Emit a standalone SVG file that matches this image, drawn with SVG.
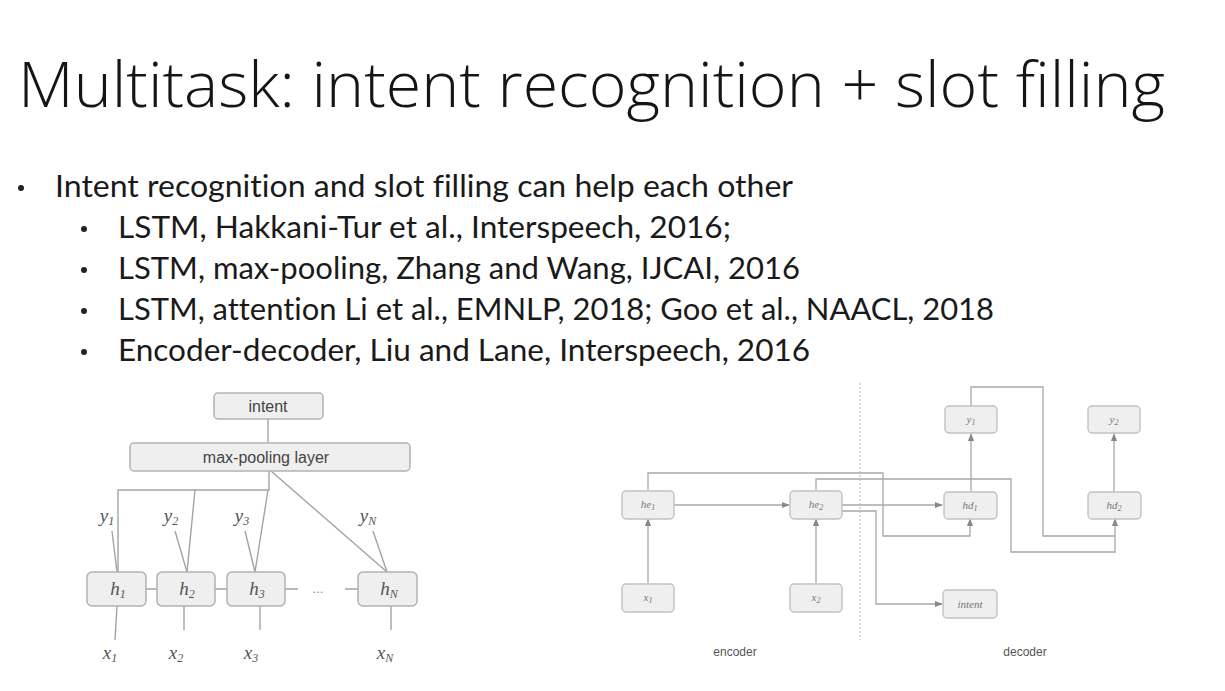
<svg xmlns="http://www.w3.org/2000/svg" width="1225" height="691" viewBox="0 0 1225 691">
<defs>
<style>
.title{font-family:"Open Sans","Noto Sans",sans-serif;font-weight:300;font-size:63px;fill:#151515}
.bul{font-family:"Lato","Open Sans","Liberation Sans",sans-serif;font-size:30px;fill:#1a1a1a;font-variant-ligatures:none;font-feature-settings:"liga" 0,"dlig" 0}
.lb{fill:#efefef;stroke:#b2b2b2;stroke-width:1.5}
.rb{fill:#efefef;stroke:#c2c2c2;stroke-width:1.4}
.ln{fill:none;stroke:#a3a3a3;stroke-width:1.4}
.rl{fill:none;stroke:#a8a8a8;stroke-width:1.3}
.sans{font-family:"Liberation Sans",Arial,sans-serif;font-size:16px;fill:#444;text-anchor:middle}
.it{font-family:"Liberation Serif","DejaVu Serif",serif;font-style:italic;fill:#555;text-anchor:middle}
.itr{font-family:"Liberation Serif","DejaVu Serif",serif;font-style:italic;fill:#777;text-anchor:middle;font-size:11px}
.cap{font-family:"Liberation Sans",Arial,sans-serif;font-size:12px;fill:#555;text-anchor:middle}
</style>
<marker id="ar" viewBox="0 0 10 10" refX="9" refY="5" markerWidth="6" markerHeight="6" orient="auto">
<path d="M0,1 L10,5 L0,9 z" fill="#888"/>
</marker>
</defs>
<rect width="1225" height="691" fill="#ffffff"/>

<text class="title" x="18" y="107" textLength="1147" lengthAdjust="spacingAndGlyphs">Multitask: intent recognition + slot filling</text>

<g id="bullets">
<circle cx="21" cy="188" r="3" fill="#222"/>
<text class="bul" x="55" y="197" textLength="738" lengthAdjust="spacingAndGlyphs">Intent recognition and slot filling can help each other</text>
<circle cx="84" cy="229" r="3" fill="#222"/>
<text class="bul" x="118" y="238" textLength="613" lengthAdjust="spacingAndGlyphs">LSTM, Hakkani-Tur et al., Interspeech, 2016;</text>
<circle cx="84" cy="270" r="3" fill="#222"/>
<text class="bul" x="118" y="279" textLength="682" lengthAdjust="spacingAndGlyphs">LSTM, max-pooling, Zhang and Wang, IJCAI, 2016</text>
<circle cx="84" cy="311" r="3" fill="#222"/>
<text class="bul" x="118" y="320" textLength="876" lengthAdjust="spacingAndGlyphs">LSTM, attention Li et al., EMNLP, 2018; Goo et al., NAACL, 2018</text>
<circle cx="84" cy="352" r="3" fill="#222"/>
<text class="bul" x="118" y="361" textLength="692" lengthAdjust="spacingAndGlyphs">Encoder-decoder, Liu and Lane, Interspeech, 2016</text>
</g>

<!-- Left diagram -->
<g id="left-connectors">
<path class="ln" d="M268,419 V442"/>
<path class="ln" d="M269,471 V490 H118 V572"/>
<path class="ln" d="M195,490 L187,572"/>
<path class="ln" d="M268,490 L255,572"/>
<path class="ln" d="M271,471 L387,572"/>
<path class="ln" d="M112,531 L117,572"/>
<path class="ln" d="M175,531 L187,572"/>
<path class="ln" d="M245,531 L255,572"/>
<path class="ln" d="M373,531 L387,572"/>
<path class="ln" d="M146,589 H157 M215,589 H227 M285,589 H298 M345,589 H358"/>
<path class="ln" d="M117,606 L115,640 M184,606 V630 M260,606 V630 M391,606 V630"/>
</g>
<g id="l-intent"><rect class="lb" x="214" y="393" width="109" height="26" rx="4"/><text class="sans" x="268" y="412">intent</text></g>
<g id="l-maxpool"><rect class="lb" x="130" y="443" width="280" height="28" rx="4"/><text class="sans" x="266" y="463">max-pooling layer</text></g>
<g id="l-h1"><rect class="lb" x="87" y="572" width="59" height="34" rx="5"/><text class="it" x="118" y="595" font-size="19">h<tspan font-size="12" dy="3">1</tspan></text></g>
<g id="l-h2"><rect class="lb" x="157" y="572" width="58" height="34" rx="5"/><text class="it" x="187" y="595" font-size="19">h<tspan font-size="12" dy="3">2</tspan></text></g>
<g id="l-h3"><rect class="lb" x="227" y="572" width="58" height="34" rx="5"/><text class="it" x="257" y="595" font-size="19">h<tspan font-size="12" dy="3">3</tspan></text></g>
<g id="l-hN"><rect class="lb" x="358" y="572" width="59" height="34" rx="5"/><text class="it" x="389" y="595" font-size="19">h<tspan font-size="12" dy="3">N</tspan></text></g>
<text x="318" y="593" font-family="Liberation Sans,sans-serif" font-size="13" fill="#888" text-anchor="middle">...</text>
<g id="l-ylabels">
<text class="it" x="107" y="522" font-size="19">y<tspan font-size="12" dy="3">1</tspan></text>
<text class="it" x="171" y="522" font-size="19">y<tspan font-size="12" dy="3">2</tspan></text>
<text class="it" x="242" y="522" font-size="19">y<tspan font-size="12" dy="3">3</tspan></text>
<text class="it" x="368" y="522" font-size="19">y<tspan font-size="12" dy="3">N</tspan></text>
</g>
<g id="l-xlabels">
<text class="it" x="110" y="659" font-size="19">x<tspan font-size="12" dy="3">1</tspan></text>
<text class="it" x="176" y="659" font-size="19">x<tspan font-size="12" dy="3">2</tspan></text>
<text class="it" x="251" y="659" font-size="19">x<tspan font-size="12" dy="3">3</tspan></text>
<text class="it" x="385" y="659" font-size="19">x<tspan font-size="12" dy="3">N</tspan></text>
</g>

<!-- Right diagram -->
<path d="M860,383 V640" stroke="#b5b5b5" stroke-width="1" stroke-dasharray="2,2" fill="none"/>
<g id="right-connectors">
<path class="rl" d="M674,505 H789" marker-end="url(#ar)"/>
<path class="rl" d="M648,583 V519" marker-end="url(#ar)"/>
<path class="rl" d="M816,583 V519" marker-end="url(#ar)"/>
<path class="rl" d="M648,490 V473 H883 V536 H970 V519" marker-end="url(#ar)"/>
<path class="rl" d="M816,490 V479 H1011 V552 H1115 V519" marker-end="url(#ar)"/>
<path class="rl" d="M842,505 H942" marker-end="url(#ar)"/>
<path class="rl" d="M842,511 H876 V604 H942" marker-end="url(#ar)"/>
<path class="rl" d="M971,492 V434" marker-end="url(#ar)"/>
<path class="rl" d="M1114,492 V434" marker-end="url(#ar)"/>
<path class="rl" d="M971,406 V387 H1043 V536 H1115"/>
</g>
<g id="r-he1"><rect class="rb" x="622" y="491" width="52" height="28" rx="4"/><text class="itr" x="648" y="508">he<tspan font-size="8" dy="2">1</tspan></text></g>
<g id="r-he2"><rect class="rb" x="790" y="491" width="52" height="28" rx="4"/><text class="itr" x="816" y="508">he<tspan font-size="8" dy="2">2</tspan></text></g>
<g id="r-x1"><rect class="rb" x="622" y="584" width="52" height="28" rx="4"/><text class="itr" x="648" y="601">x<tspan font-size="8" dy="2">1</tspan></text></g>
<g id="r-x2"><rect class="rb" x="790" y="584" width="52" height="28" rx="4"/><text class="itr" x="816" y="601">x<tspan font-size="8" dy="2">2</tspan></text></g>
<g id="r-hd1"><rect class="rb" x="944" y="492" width="53" height="27" rx="4"/><text class="itr" x="970" y="509">hd<tspan font-size="8" dy="2">1</tspan></text></g>
<g id="r-hd2"><rect class="rb" x="1088" y="492" width="53" height="27" rx="4"/><text class="itr" x="1114" y="509">hd<tspan font-size="8" dy="2">2</tspan></text></g>
<g id="r-y1"><rect class="rb" x="945" y="406" width="52" height="27" rx="4"/><text class="itr" x="971" y="423">y<tspan font-size="8" dy="2">1</tspan></text></g>
<g id="r-y2"><rect class="rb" x="1088" y="406" width="52" height="27" rx="4"/><text class="itr" x="1114" y="423">y<tspan font-size="8" dy="2">2</tspan></text></g>
<g id="r-intent"><rect class="rb" x="943" y="590" width="54" height="28" rx="4"/><text class="itr" x="970" y="608">intent</text></g>
<text class="cap" x="735" y="656">encoder</text>
<text class="cap" x="1025" y="656">decoder</text>
</svg>
